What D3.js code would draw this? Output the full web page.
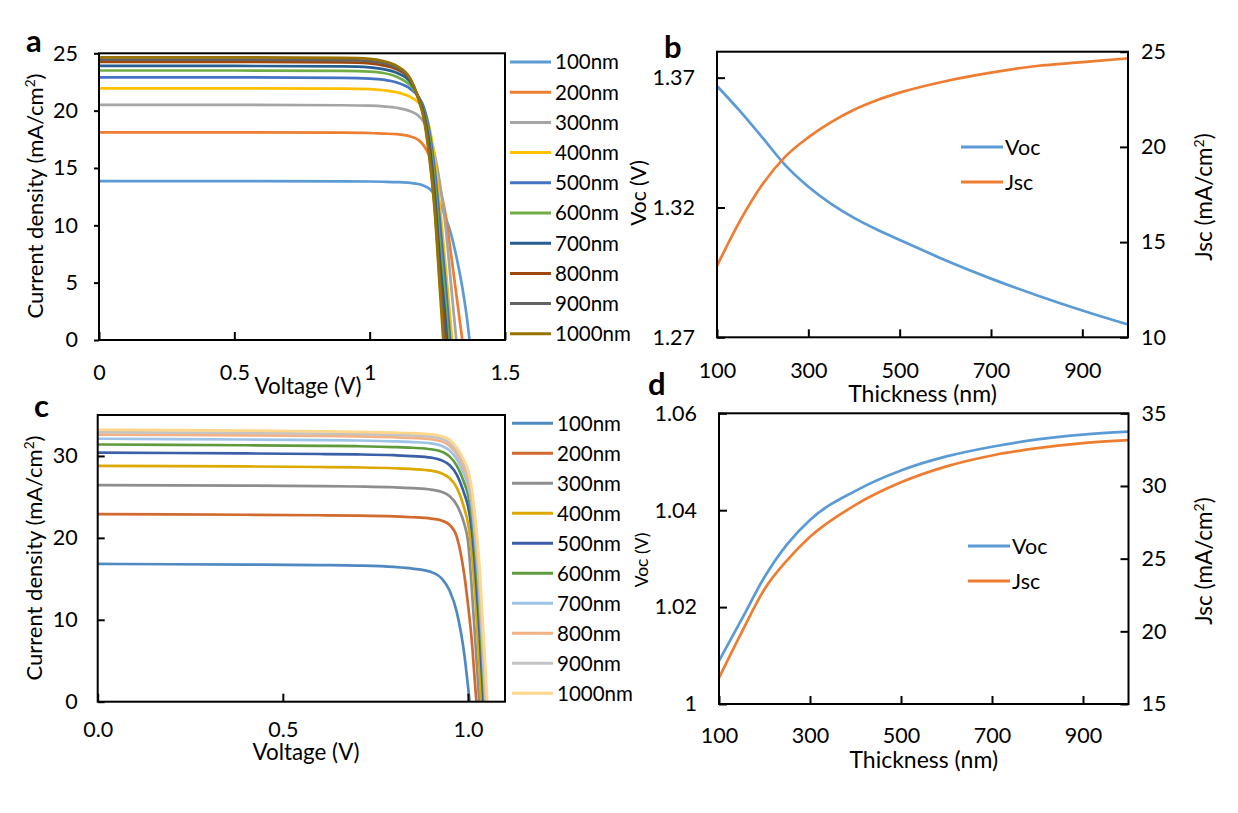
<!DOCTYPE html>
<html>
<head>
<meta charset="utf-8">
<script src="https://cdn.jsdelivr.net/npm/d3@7"></script>
<style>
  body { margin: 0; background: #fff; }
  svg { display: block; }
  text { font-family: Lato, "Open Sans", sans-serif; fill: #000; }
</style>
</head>
<body>
<svg id="chart" width="1238" height="813"></svg>
<script>
// ---- data ----
var thicknessNames = ["100nm", "200nm", "300nm", "400nm", "500nm", "600nm", "700nm", "800nm", "900nm", "1000nm"];

var coloursA = ["#5B9BD5", "#ED7D31", "#A5A5A5", "#FFC000", "#4472C4", "#70AD47", "#255E91", "#9E480E", "#636363", "#997300"];
var coloursC = ["#4E89C2", "#D2692E", "#8E8E8E", "#DDA800", "#3A5FA8", "#5F9B3C", "#9DC3E6", "#F4B183", "#C4C4C4", "#FFD68A"];

// panel a: voltage grid (V) and current density (mA/cm2) per thickness
var voltsA = [0, 0.5, 0.9, 1.0, 1.05, 1.1, 1.15, 1.18, 1.2, 1.22, 1.24, 1.26, 1.28, 1.30, 1.32, 1.34, 1.36, 1.38];
var jA100  = [13.85, 13.85, 13.83, 13.82, 13.8, 13.77, 13.7, 13.6, 13.45, 13.2, 12.7, 11.9, 10.7, 9.3, 7.3, 4.9, 1.8, -2.5];
var jA200  = [18.1, 18.1, 18.08, 18.05, 18.0, 17.95, 17.75, 17.45, 16.95, 16.1, 14.9, 13.2, 11.0, 7.6, 4.0, 0.4, -3.2];
var jA300  = [20.5, 20.5, 20.47, 20.43, 20.37, 20.25, 19.95, 19.55, 19.0, 18.0, 16.2, 13.6, 10.0, 5.0, 0, -5];
var jA400  = [21.95, 21.95, 21.92, 21.87, 21.78, 21.6, 21.2, 20.7, 20.1, 18.6, 15.9, 11.6, 6.5, 1.3, -4];
var jA500  = [22.9, 22.9, 22.86, 22.8, 22.7, 22.45, 21.9, 21.2, 20.3, 18.3, 14.9, 10.2, 5.1, -0.7];
var jA600  = [23.5, 23.5, 23.46, 23.4, 23.28, 22.95, 22.2, 21.2, 20.0, 17.8, 13.8, 8.2, 3.3, -2.5];
var jA700  = [23.9, 23.9, 23.86, 23.78, 23.62, 23.3, 22.5, 21.2, 19.8, 17.2, 12.8, 6.8, 1.8, -4.5];
var jA800  = [24.25, 24.25, 24.2, 24.12, 23.95, 23.6, 22.7, 21.1, 19.6, 16.7, 12.1, 5.6, 0.35, -6];
var jA900  = [24.45, 24.45, 24.4, 24.32, 24.15, 23.75, 22.75, 21.05, 19.45, 16.35, 11.7, 4.9, -1.1];
var jA1000 = [24.65, 24.65, 24.6, 24.52, 24.33, 23.9, 22.8, 21.0, 19.3, 16.0, 11.3, 4.2, -2.8];

// panel c
var voltsC = [0, 0.2, 0.4, 0.6, 0.7, 0.8, 0.85, 0.9, 0.93, 0.95, 0.97, 0.99, 1.0, 1.01, 1.02, 1.03, 1.04, 1.05, 1.06];
var jC100  = [16.82, 16.78, 16.74, 16.68, 16.62, 16.45, 16.25, 15.85, 15.0, 13.6, 10.9, 5.8, 1.9, -2.5];
var jC200  = [22.9, 22.86, 22.82, 22.76, 22.72, 22.62, 22.52, 22.35, 22.1, 21.6, 20.1, 15.5, 11.9, 7.6, 1.6, -4];
var jC300  = [26.45, 26.42, 26.38, 26.32, 26.27, 26.18, 26.08, 25.9, 25.6, 25.1, 24.0, 21.7, 19.6, 14.0, 7.2, 0.3, -6.5];
var jC400  = [28.8, 28.76, 28.72, 28.65, 28.6, 28.5, 28.4, 28.2, 27.85, 27.3, 26.1, 23.6, 21.8, 18.3, 12.6, 5.2, -3.4];
var jC500  = [30.4, 30.36, 30.31, 30.24, 30.19, 30.09, 29.99, 29.8, 29.45, 28.9, 27.7, 25.4, 23.9, 21.0, 16.0, 9.4, 1.4, -7];
var jC600  = [31.4, 31.36, 31.31, 31.24, 31.19, 31.09, 31.0, 30.82, 30.5, 29.95, 28.8, 26.7, 25.3, 22.7, 18.0, 11.8, 3.9, -4.5];
var jC700  = [32.1, 32.06, 32.01, 31.94, 31.89, 31.79, 31.7, 31.53, 31.22, 30.7, 29.6, 27.7, 26.4, 24.0, 19.6, 13.8, 5.9, -2.5];
var jC800  = [32.6, 32.56, 32.51, 32.44, 32.39, 32.29, 32.2, 32.04, 31.75, 31.25, 30.2, 28.4, 27.2, 24.9, 20.8, 15.3, 7.6, -0.8];
var jC900  = [32.9, 32.86, 32.81, 32.73, 32.68, 32.58, 32.5, 32.35, 32.08, 31.6, 30.6, 28.9, 27.8, 25.6, 21.6, 16.3, 8.7, 0.5, -7.5];
var jC1000 = [33.2, 33.15, 33.1, 33.0, 32.95, 32.85, 32.78, 32.65, 32.4, 32.0, 31.0, 29.4, 28.3, 26.1, 22.3, 17.3, 9.6, 1.6, -6];

// panel b: Voc (V) and Jsc (mA/cm2) against thickness (nm)
var thickB = [100, 150, 200, 250, 300, 350, 400, 450, 500, 600, 700, 800, 900, 1000];
var vocB = [1.3668, 1.3572, 1.3468, 1.3362, 1.3280, 1.3214, 1.3160, 1.3115, 1.3075, 1.2997, 1.2926, 1.2862, 1.2803, 1.2749];
var jscB = [13.75, 16.1, 18.05, 19.5, 20.5, 21.3, 21.95, 22.45, 22.85, 23.45, 23.9, 24.25, 24.45, 24.65];

// panel d
var thickD = [100, 150, 200, 250, 300, 400, 500, 600, 700, 800, 900, 1000];
var vocD = [1.0089, 1.0175, 1.0262, 1.0330, 1.0380, 1.0440, 1.0482, 1.0511, 1.0531, 1.0546, 1.0556, 1.0562];
var jscD = [16.8, 19.95, 22.9, 24.9, 26.5, 28.7, 30.25, 31.35, 32.1, 32.6, 32.95, 33.15];

var svg = d3.select("#chart");
var TICK_FONT = 21.5;

function pairs(xs, ys) {
  return ys.map(function (y, i) { return [xs[i], y]; });
}

function styleAxis(g) {
  g.select(".domain").remove();
  g.selectAll("line").attr("stroke", "#000").attr("stroke-width", 2);
  g.selectAll("text").style("font-size", TICK_FONT + "px").attr("fill", "#000");
}

function frame(box) {
  svg.append("rect")
    .attr("x", box.x0).attr("y", box.y0)
    .attr("width", box.x1 - box.x0).attr("height", box.y1 - box.y0)
    .attr("fill", "none").attr("stroke", "#000").attr("stroke-width", 2);
}

function panelLetter(txt, x, y) {
  svg.append("text").attr("x", x).attr("y", y)
    .style("font-size", "31px").style("font-weight", "bold").text(txt);
}

function rotatedTitle(parts, cx, cy, size) {
  var t = svg.append("text")
    .attr("transform", "translate(" + cx + "," + cy + ") rotate(-90)")
    .attr("text-anchor", "middle").attr("dy", "0.35em")
    .style("font-size", size + "px");
  parts.forEach(function (p) {
    var s = t.append("tspan").text(p.t);
    if (p.sup) s.attr("baseline-shift", "super").style("font-size", (size * 0.62) + "px");
  });
}

var cmTitle = function (head) {
  return [{t: head + " (mA/cm"}, {t: "2", sup: true}, {t: ")"}];
};

// ---- J-V panels ----
function jvPanel(o) {
  var x = d3.scaleLinear().domain(o.xDomain).range([o.box.x0, o.box.x1]);
  var y = d3.scaleLinear().domain(o.yDomain).range([o.box.y1, o.box.y0]);

  var clipId = "clip" + o.id;
  svg.append("clipPath").attr("id", clipId).append("rect")
    .attr("x", o.box.x0).attr("y", o.box.y0)
    .attr("width", o.box.x1 - o.box.x0).attr("height", o.box.y1 - o.box.y0);

  var line = d3.line()
    .x(function (d) { return x(d[0]); })
    .y(function (d) { return y(d[1]); })
    .curve(d3.curveMonotoneX);

  svg.append("g").attr("clip-path", "url(#" + clipId + ")")
    .selectAll("path").data(o.series).enter().append("path")
    .attr("d", function (s) { return line(pairs(o.volts, s)); })
    .attr("fill", "none")
    .attr("stroke", function (s, i) { return o.colours[i]; })
    .attr("stroke-width", 2.7);

  svg.append("g").attr("transform", "translate(0," + o.box.y1 + ")")
    .call(d3.axisBottom(x).tickValues(o.xTicks).tickFormat(o.xFormat)
      .tickSizeInner(-8).tickSizeOuter(0).tickPadding(o.xPad))
    .call(styleAxis);

  svg.append("g").attr("transform", "translate(" + o.box.x0 + ",0)")
    .call(d3.axisLeft(y).tickValues(o.yTicks).tickFormat(d3.format("d"))
      .tickSizeInner(o.yTick).tickSizeOuter(0).tickPadding(o.yPad))
    .call(styleAxis);

  frame(o.box);

  svg.append("text").attr("x", o.xTitle[0]).attr("y", o.xTitle[1])
    .attr("text-anchor", "middle").style("font-size", "22.4px").text("Voltage (V)");
  rotatedTitle(cmTitle("Current density"), o.yTitle[0], o.yTitle[1], 22);

  var leg = svg.append("g");
  thicknessNames.forEach(function (name, i) {
    var ly = o.legend.y + i * o.legend.step;
    leg.append("line")
      .attr("x1", o.legend.x).attr("x2", o.legend.x + 41)
      .attr("y1", ly).attr("y2", ly)
      .attr("stroke", o.colours[i]).attr("stroke-width", 3);
    leg.append("text").attr("x", o.legend.x + 45).attr("y", ly)
      .attr("dy", "0.36em").style("font-size", "20.5px").text(name);
  });
}

jvPanel({
  id: "a",
  box: {x0: 99, x1: 505, y0: 53.3, y1: 340},
  xDomain: [0, 1.5], yDomain: [0, 25],
  xTicks: [0, 0.5, 1, 1.5], xFormat: d3.format(""), xPad: 24.5,
  yTicks: [0, 5, 10, 15, 20, 25], yTick: 5, yPad: 16,
  volts: voltsA,
  series: [jA100, jA200, jA300, jA400, jA500, jA600, jA700, jA800, jA900, jA1000],
  colours: coloursA,
  xTitle: [308, 394], yTitle: [35, 196],
  legend: {x: 510, y: 62, step: 30.2}
});

jvPanel({
  id: "c",
  box: {x0: 97.7, x1: 505, y0: 415, y1: 701.7},
  xDomain: [0, 1.1], yDomain: [0, 35],
  xTicks: [0, 0.5, 1.0], xFormat: d3.format(".1f"), xPad: 20.5,
  yTicks: [0, 10, 20, 30], yTick: -7, yPad: 20,
  volts: voltsC,
  series: [jC100, jC200, jC300, jC400, jC500, jC600, jC700, jC800, jC900, jC1000],
  colours: coloursC,
  xTitle: [306, 760], yTitle: [34, 558],
  legend: {x: 512, y: 423.3, step: 30}
});

// ---- Voc / Jsc against thickness ----
function dualPanel(o) {
  var x = d3.scaleLinear().domain([100, 1000]).range([o.box.x0, o.box.x1]);
  var yL = d3.scaleLinear().domain(o.vocDomain).range([o.box.y1, o.box.y0]);
  var yR = d3.scaleLinear().domain(o.jscDomain).range([o.box.y1, o.box.y0]);

  var lineL = d3.line().x(function (d) { return x(d[0]); }).y(function (d) { return yL(d[1]); })
    .curve(d3.curveMonotoneX);
  var lineR = d3.line().x(function (d) { return x(d[0]); }).y(function (d) { return yR(d[1]); })
    .curve(d3.curveMonotoneX);

  svg.append("path").attr("d", lineL(pairs(o.thick, o.voc)))
    .attr("fill", "none").attr("stroke", "#5B9BD5").attr("stroke-width", 2.7);
  svg.append("path").attr("d", lineR(pairs(o.thick, o.jsc)))
    .attr("fill", "none").attr("stroke", "#ED7D31").attr("stroke-width", 2.7);

  svg.append("g").attr("transform", "translate(0," + o.box.y1 + ")")
    .call(d3.axisBottom(x).tickValues([100, 300, 500, 700, 900]).tickFormat(d3.format("d"))
      .tickSizeInner(-8).tickSizeOuter(0).tickPadding(o.xPad))
    .call(styleAxis);

  svg.append("g").attr("transform", "translate(" + o.box.x0 + ",0)")
    .call(d3.axisLeft(yL).tickValues(o.vocTicks).tickFormat(d3.format(""))
      .tickSizeInner(-8).tickSizeOuter(0).tickPadding(22))
    .call(styleAxis);

  svg.append("g").attr("transform", "translate(" + o.box.x1 + ",0)")
    .call(d3.axisRight(yR).tickValues(o.jscTicks).tickFormat(d3.format("d"))
      .tickSizeInner(-8).tickSizeOuter(0).tickPadding(13))
    .call(styleAxis);

  frame(o.box);

  svg.append("text").attr("x", (o.box.x0 + o.box.x1) / 2).attr("y", o.xTitleY)
    .attr("text-anchor", "middle").style("font-size", "23px").text("Thickness (nm)");
  rotatedTitle([{t: "Voc (V)"}], o.vocTitle[0], o.vocTitle[1], o.vocSize);
  rotatedTitle(cmTitle("Jsc"), o.jscTitle[0], o.jscTitle[1], 22.5);

  [["Voc", "#5B9BD5"], ["Jsc", "#ED7D31"]].forEach(function (e, i) {
    var ly = o.legend.y + i * o.legend.step;
    svg.append("line").attr("x1", o.legend.x).attr("x2", o.legend.x + 42)
      .attr("y1", ly).attr("y2", ly).attr("stroke", e[1]).attr("stroke-width", 3);
    svg.append("text").attr("x", o.legend.x + 44).attr("y", ly).attr("dy", "0.36em")
      .style("font-size", "21.5px").text(e[0]);
  });
}

dualPanel({
  box: {x0: 717, x1: 1128, y0: 51.7, y1: 337.3},
  vocDomain: [1.27, 1.38], vocTicks: [1.27, 1.32, 1.37],
  jscDomain: [10, 25], jscTicks: [10, 15, 20, 25],
  thick: thickB, voc: vocB, jsc: jscB,
  xPad: 25.5, xTitleY: 402,
  vocTitle: [639, 193], vocSize: 21,
  jscTitle: [1204, 197],
  legend: {x: 961, y: 147, step: 35}
});

dualPanel({
  box: {x0: 719, x1: 1128.5, y0: 413.3, y1: 704},
  vocDomain: [1.0, 1.06], vocTicks: [1, 1.02, 1.04, 1.06],
  jscDomain: [15, 35], jscTicks: [15, 20, 25, 30, 35],
  thick: thickD, voc: vocD, jsc: jscD,
  xPad: 24, xTitleY: 768,
  vocTitle: [642, 560], vocSize: 17.5,
  jscTitle: [1204, 561],
  legend: {x: 968, y: 546, step: 35}
});

panelLetter("a", 26, 52);
panelLetter("b", 664, 58);
panelLetter("c", 34, 417);
panelLetter("d", 648, 395);
</script>
</body>
</html>
